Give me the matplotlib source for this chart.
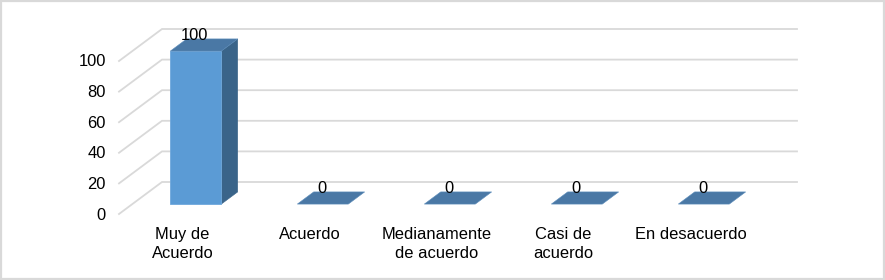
import matplotlib
matplotlib.use("Agg")
import matplotlib.pyplot as plt
from matplotlib.patches import Polygon, Rectangle

plt.rcParams['font.family'] = ['Liberation Sans', 'DejaVu Sans']

categories = ["Muy de\nAcuerdo", "Acuerdo", "Medianamente\nde acuerdo", "Casi de\nacuerdo", "En desacuerdo"]
values = [100, 0, 0, 0, 0]
y_ticks = [0, 20, 40, 60, 80, 100]

W, H = 885, 280
fig = plt.figure(figsize=(W / 100, H / 100), dpi=100, facecolor='white')
# axes box = front plane of the 3-D chart
L, R, B, T = 119, 754, 214, 61
ax = fig.add_axes([L / W, 1 - B / H, (R - L) / W, (B - T) / H])
ax.set_xlim(-0.5, 4.5)
ax.set_ylim(0, 100)
ax.axis('off')

DX = 43 / 127      # full depth in category units
DY = 32 / 153 * 100  # full depth in value units
BAR_W = 51 / 127
D0, D1 = 0.31, 0.69

GRID = '#D9D9D9'
FRONT, SIDE, TOP = '#5B9BD5', '#3A6489', '#4A78A5'
TXT = '#000000'
FS = 11.9


def P(x, y, d=0.0):
    return (x + DX * d, y + DY * d)


for t in y_ticks:
    ax.plot(*zip(P(-0.5, t, 0), P(-0.5, t, 1), P(4.5, t, 1)), color=GRID, lw=1.3,
            clip_on=False, zorder=1, solid_joinstyle='miter')
    ax.annotate(str(t), xy=(-0.5, t), xytext=(-13, -1), textcoords='offset pixels',
                ha='right', va='center', fontsize=FS, color=TXT, annotation_clip=False)

for i, (cat, v) in enumerate(zip(categories, values)):
    l, r = i - BAR_W / 2, i + BAR_W / 2
    if v > 0:
        ax.add_patch(Polygon([P(r, 0, D0), P(r, 0, D1), P(r, v, D1), P(r, v, D0)],
                             fc=SIDE, ec=SIDE, lw=0.4, clip_on=False, zorder=3))
        ax.add_patch(Polygon([P(l, 0, D0), P(r, 0, D0), P(r, v, D0), P(l, v, D0)],
                             fc=FRONT, ec='#6FA8DC', lw=0.6, clip_on=False, zorder=3))
    ax.add_patch(Polygon([P(l, v, D0), P(r, v, D0), P(r, v, D1), P(l, v, D1)],
                         fc=TOP, ec='#5C8DBB', lw=0.4, clip_on=False, zorder=4))
    cx, cy = P(i, v, D0)
    ax.annotate(str(v), xy=(cx, cy), xytext=(-1, 16), textcoords='offset pixels',
                ha='center', va='center', fontsize=FS, color=TXT, annotation_clip=False, zorder=5)
    ax.annotate(cat, xy=(i, 0), xytext=(0, -13), textcoords='offset pixels',
                ha='center', va='top', fontsize=FS, color=TXT, linespacing=1.36,
                annotation_clip=False)

fig.add_artist(Rectangle((0.0012, 0.0036), 0.9976, 0.9928, transform=fig.transFigure,
                         fc='none', ec=GRID, lw=1.6))
fig.savefig('out.png', dpi=100)
